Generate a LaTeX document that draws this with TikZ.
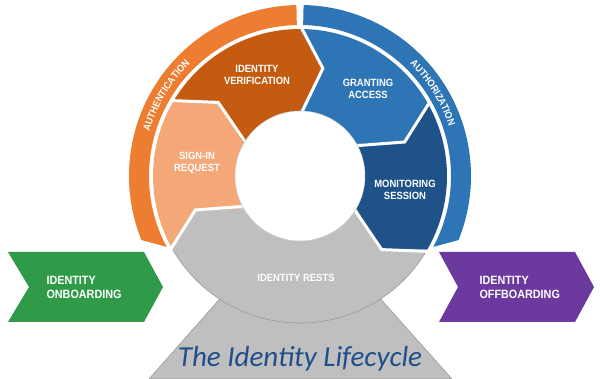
\documentclass[tikz,border=0pt]{standalone}
\usepackage{fontspec}
\setmainfont{Liberation Sans}
\newfontfamily\lblfont[FakeStretch=0.9]{Liberation Sans}
\newfontfamily\titlefont{Carlito}
\usetikzlibrary{decorations.text}
\definecolor{orangeband}{HTML}{ED7D31}
\definecolor{verif}{HTML}{C55A11}
\definecolor{signin}{HTML}{F4A878}
\definecolor{blueband}{HTML}{2E75B6}
\definecolor{granting}{HTML}{2E75B6}
\definecolor{monitoring}{HTML}{1F5289}
\definecolor{rests}{HTML}{BFBFBF}
\definecolor{restsline}{HTML}{9A9A9A}
\definecolor{onboard}{HTML}{2F9A48}
\definecolor{offboard}{HTML}{6C3A9E}
\definecolor{titleblue}{HTML}{1F4E8A}
\newcommand\lcseg[3]{%
  \pgfmathsetmacro\tipA{#1-12}%
  \pgfmathsetmacro\tipB{#2-12}%
  \fill[#3] (#1:147) arc[start angle=#1,end angle=#2,radius=147] -- (\tipB:110) -- (#2:65)
    arc[start angle=#2,end angle=#1,radius=65] -- (\tipA:110) -- cycle;}
\tikzset{
  seglabel/.style={text=white, align=center, font=\lblfont\bfseries\fontsize{10.5}{12.5}\selectfont},
  sidelabel/.style={text=white, align=left, anchor=west, font=\lblfont\bfseries\fontsize{12}{14}\selectfont},
  bandtext/.style={decorate, decoration={text along path, text align=center, text color=white,
     text={|\lblfont\bfseries\fontsize{10}{11}\selectfont|#1}}}
}
\begin{document}
\begin{tikzpicture}[x=1pt,y=1pt]
\useasboundingbox (-300,-203) rectangle (300,176);
\fill[white] (-300,-203) rectangle (300,176);
% base trapezoid
\filldraw[fill=rests, draw=restsline, line width=0.6] (-151,-203) -- (-37,-74) -- (37,-74) -- (152,-203) -- cycle;
% ring segments
\lcseg{330}{210}{rests}
\lcseg{210}{150}{signin}
\lcseg{150}{90}{verif}
\lcseg{90}{30}{granting}
\lcseg{30}{-30}{monitoring}
\draw[restsline, line width=0.6] (210:147) arc[start angle=210, end angle=330, radius=147];
\foreach \b in {150,90,30,-30,-150}
  \draw[white, line width=3, line join=miter] (\b:151) -- ({\b-12}:110) -- (\b:60);
\filldraw[fill=white, draw=gray!45, line width=0.5] (0,0) circle (65);
% outer bands
\fill[orangeband] (91.2:171) arc[start angle=91.2, end angle=202, radius=171] -- (208:151)
  arc[start angle=208, end angle=91.2, radius=151] -- cycle;
\fill[blueband] (88.8:171) arc[start angle=88.8, end angle=-22, radius=171] -- (-28:151)
  arc[start angle=-28, end angle=88.8, radius=151] -- cycle;
\path[bandtext=AUTHENTICATION] (174:157) arc[start angle=174, end angle=124, radius=157];
\path[bandtext=AUTHORIZATION] (57:157) arc[start angle=57, end angle=7, radius=157];
% side chevrons
\fill[onboard] (-292,-76) -- (-156,-76) -- (-137,-111) -- (-156,-146) -- (-292,-146) -- (-271,-111) -- cycle;
\fill[offboard] (139,-76) -- (275,-76) -- (294,-111) -- (275,-146) -- (139,-146) -- (158,-111) -- cycle;
% labels
\node[seglabel] (verification) at (-43,101) {IDENTITY\\VERIFICATION};
\node[seglabel] (granting) at (68,87) {GRANTING\\ACCESS};
\node[seglabel] (signin) at (-103,13) {SIGN-IN\\REQUEST};
\node[seglabel] (monitoring) at (105,-14) {MONITORING\\SESSION};
\node[seglabel] (rests) at (-4,-102) {IDENTITY RESTS};
\node[sidelabel] (onboarding) at (-257,-111.5) {IDENTITY\\ONBOARDING};
\node[sidelabel] (offboarding) at (176,-111.5) {IDENTITY\\OFFBOARDING};
\node[anchor=base, text=titleblue, font=\titlefont\itshape\fontsize{29}{32}\selectfont] (title) at (0,-191) {The Identity Lifecycle};
\end{tikzpicture}
\end{document}
